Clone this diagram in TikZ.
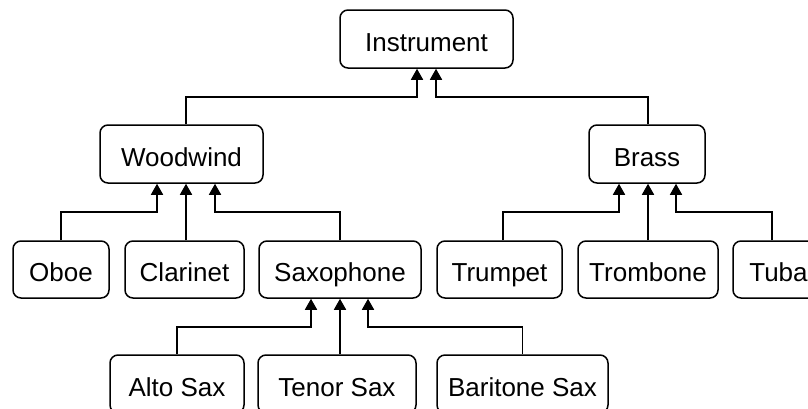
\documentclass[tikz,border=0pt]{standalone}
\usepackage{fontspec}
\setmainfont{Liberation Sans}
\usetikzlibrary{arrows.meta}
\begin{document}
\begin{tikzpicture}[x=1pt,y=-1pt,
  box/.style={draw=black, line width=1.5pt, rounded corners=8pt, fill=white,
    minimum height=58pt, inner sep=0pt, text height=24pt, text depth=0pt,
    font=\fontsize{26}{30}\selectfont},
  arr/.style={line width=1.6pt, -{Triangle[width=12pt,length=11pt]}}]
\useasboundingbox (0,0) rectangle (808,408);
\clip (0,0) rectangle (808,408);
\fill[white] (0,0) rectangle (808,408);
% nodes
\node[box, minimum width=173pt] (instr) at (426.5,39) {Instrument};
\node[box, minimum width=163pt] (wood) at (181.5,154) {Woodwind};
\node[box, minimum width=116pt] (brass) at (647,154) {Brass};
\node[box, minimum width=96pt, minimum height=57pt] (oboe) at (61,269.5) {Oboe};
\node[box, minimum width=119pt, minimum height=57pt] (clar) at (184.5,269.5) {Clarinet};
\node[box, minimum width=162pt, minimum height=57pt] (sax) at (340,269.5) {Saxophone};
\node[box, minimum width=125pt, minimum height=57pt] (trumpet) at (499.5,269.5) {Trumpet};
\node[box, minimum width=140pt, minimum height=57pt] (trombone) at (648,269.5) {Trombone};
\node[box, minimum width=91pt, minimum height=57pt] (tuba) at (778.5,269.5) {Tuba};
\node[box, minimum width=134pt] (alto) at (177,384) {Alto Sax};
\node[box, minimum width=158pt] (tenor) at (337,384) {Tenor Sax};
\node[box, minimum width=171pt] (bari) at (522.5,384) {Baritone Sax};
% junction coordinates
\coordinate (i1) at (417,97);
\coordinate (i2) at (436,97);
\coordinate (w1) at (157,212);
\coordinate (w2) at (186,212);
\coordinate (w3) at (215,212);
\coordinate (b1) at (619,212);
\coordinate (b2) at (648,212);
\coordinate (b3) at (676,212);
\coordinate (s1) at (311,327);
\coordinate (s2) at (340,327);
\coordinate (s3) at (368,327);
\coordinate (wtop) at (186,0);
\coordinate (btop) at (648,0);
\coordinate (oboex) at (61,0);
\coordinate (trx) at (503,0);
\coordinate (tux) at (772,0);
% connectors
\draw[arr] (wood.north -| wtop) |- (i1) -- (i1 |- instr.south);
\draw[arr] (brass.north -| btop) |- (i2) -- (i2 |- instr.south);
\draw[arr] (oboe.north -| oboex) |- (w1) -- (w1 |- wood.south);
\draw[arr] (clar.north -| w2) -- (w2 |- wood.south);
\draw[arr] (sax.north) |- (w3) -- (w3 |- wood.south);
\draw[arr] (trumpet.north -| trx) |- (b1) -- (b1 |- brass.south);
\draw[arr] (trombone.north -| b2) -- (b2 |- brass.south);
\draw[arr] (tuba.north -| tux) |- (b3) -- (b3 |- brass.south);
\draw[arr] (alto.north) |- (s1) -- (s1 |- sax.south);
\draw[arr] (tenor.north -| s2) -- (s2 |- sax.south);
\draw[arr] (bari.north) |- (s3) -- (s3 |- sax.south);
\end{tikzpicture}
\end{document}
